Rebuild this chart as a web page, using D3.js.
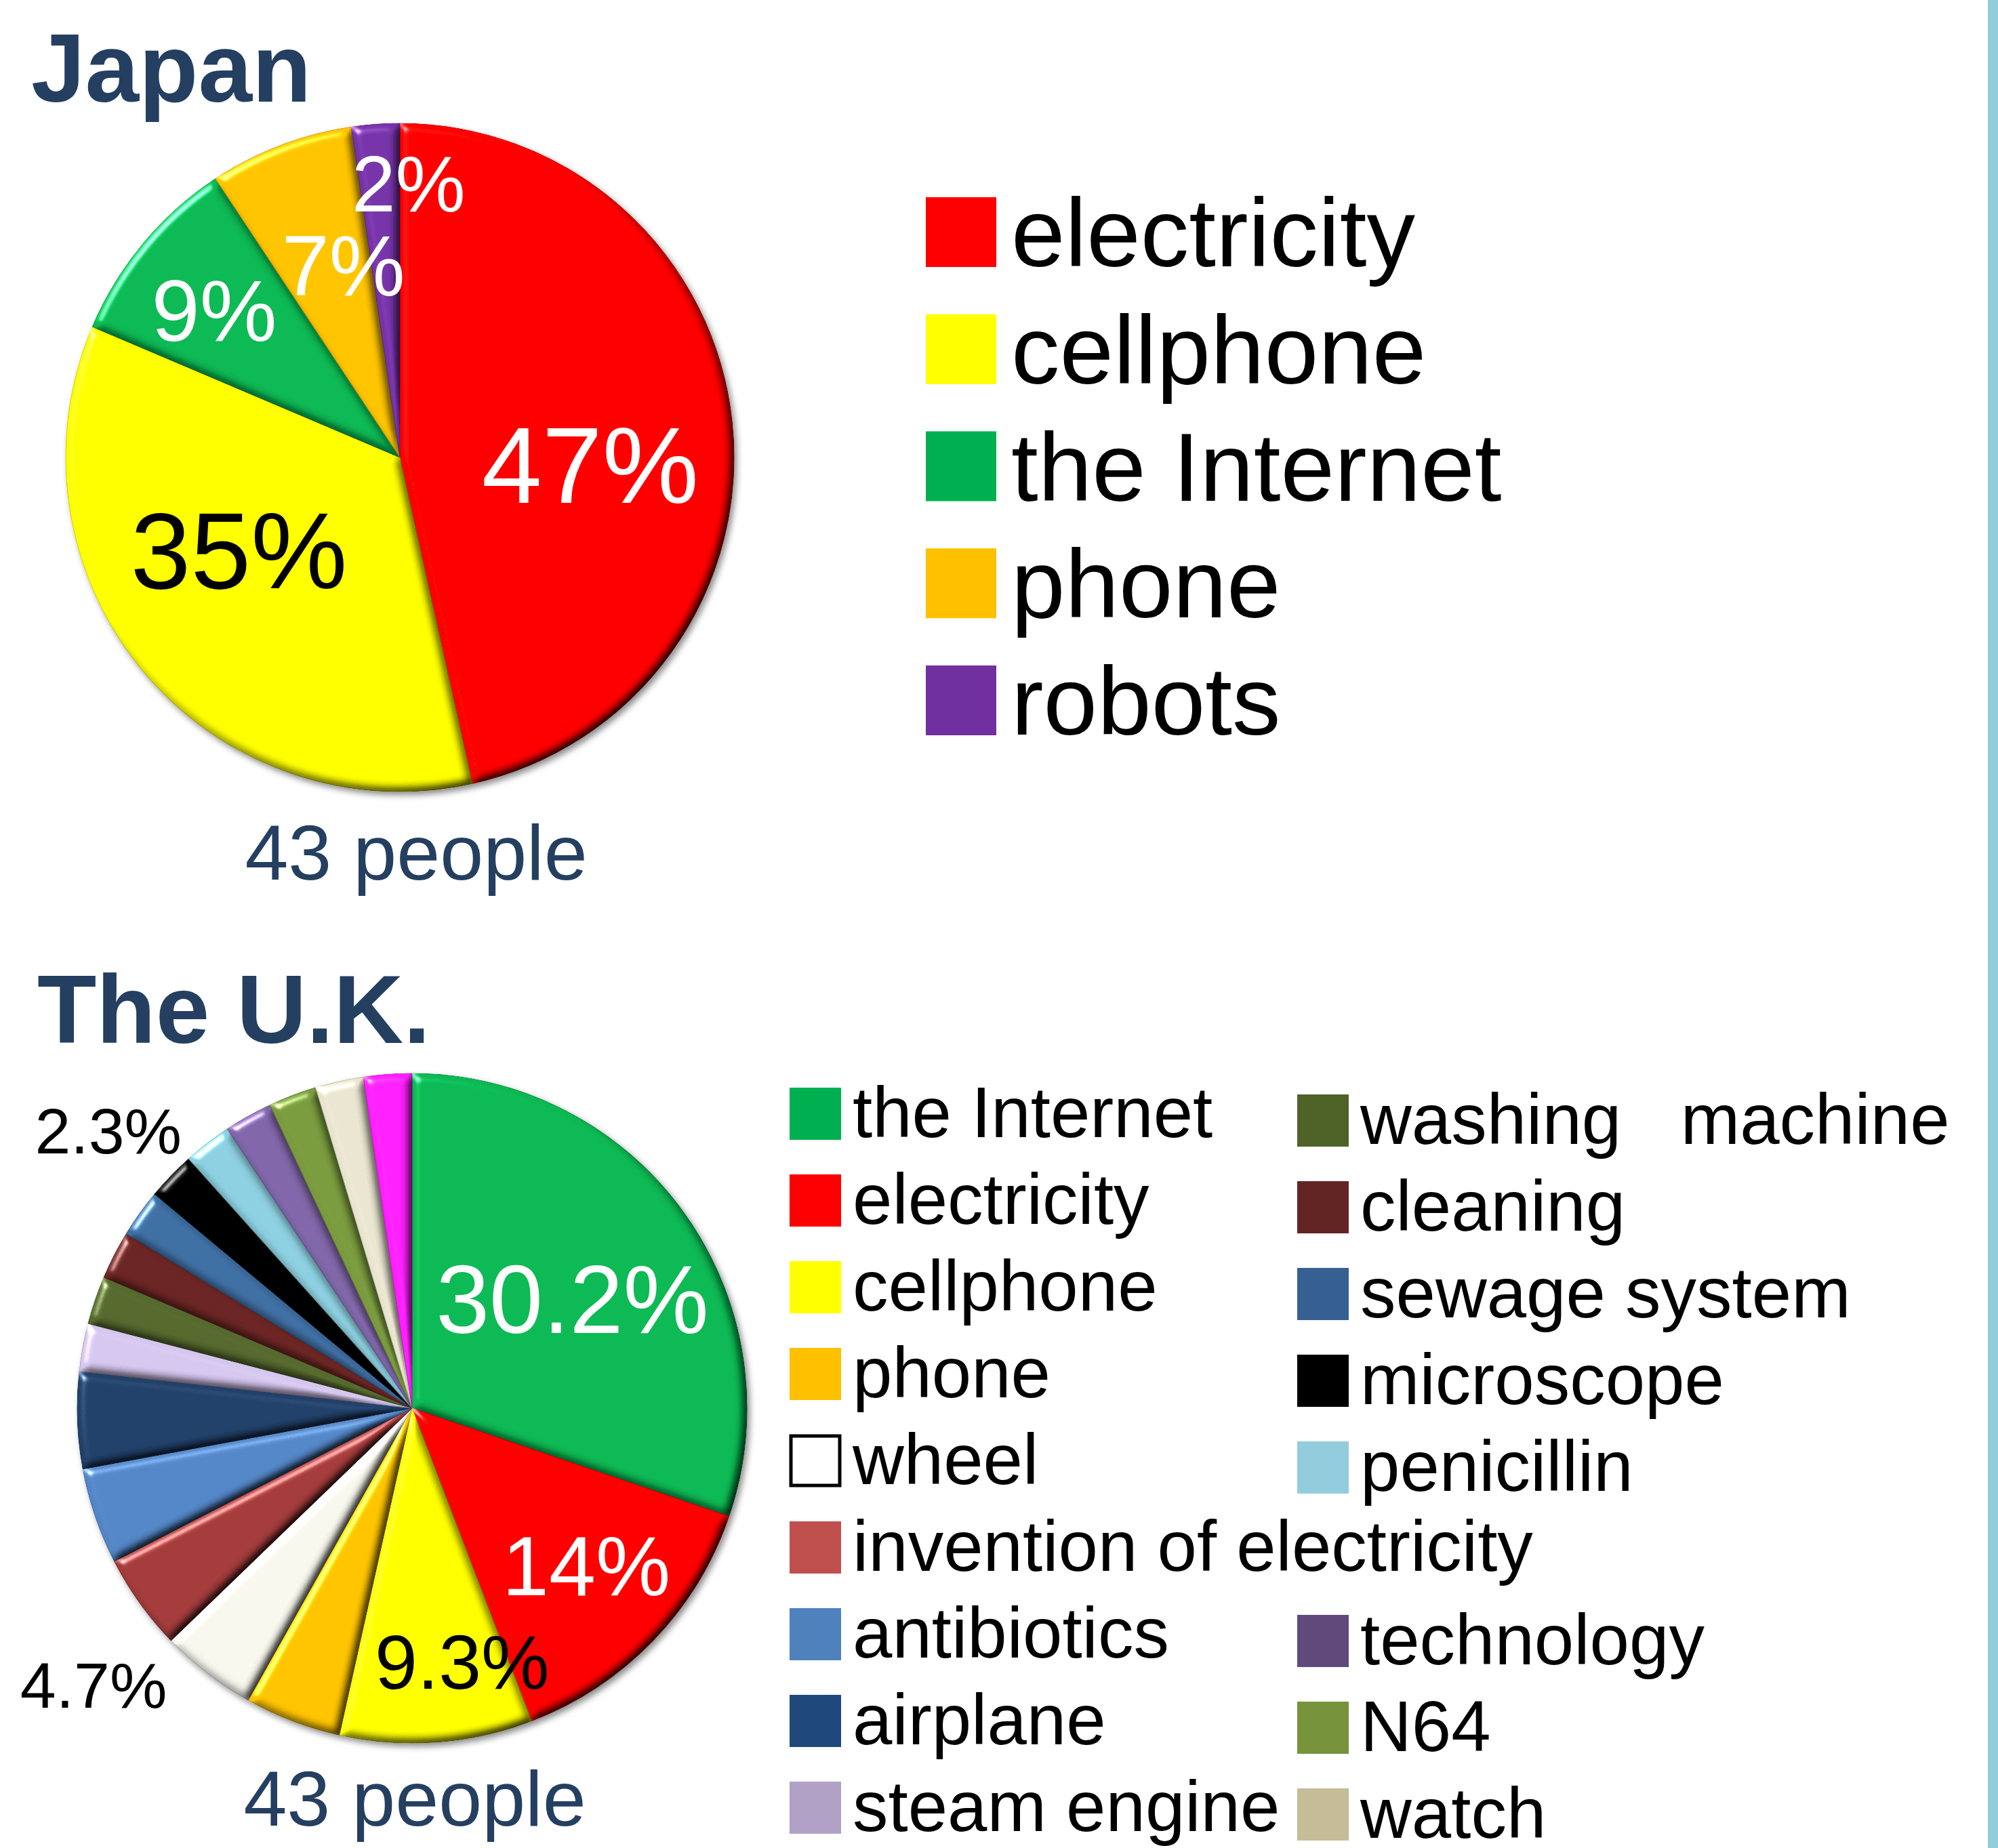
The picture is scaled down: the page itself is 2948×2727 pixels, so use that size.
<!DOCTYPE html>
<html>
<head>
<meta charset="utf-8">
<script src="https://cdn.jsdelivr.net/npm/d3@7"></script>
<style>
  html, body { margin: 0; padding: 0; background: #ffffff; }
  svg { display: block; }
  text { font-family: "Liberation Sans", Arial, sans-serif; }
</style>
</head>
<body>
<svg id="chart" width="2948" height="2727"></svg>
<script>
// ---------------- DATA ----------------
const japanCategories = ["electricity", "cellphone", "the Internet", "phone", "robots"];
const japanCounts = [20, 15, 4, 3, 1];
const japanPieColors = ["#FF0000", "#FFFF00", "#08B852", "#FFC400", "#7632A8"];
const japanLegendColors = ["#FF0000", "#FFFF00", "#00B050", "#FFC000", "#7030A0"];
const japanLabels = ["47%", "35%", "9%", "7%", "2%"];
const japanLabelSlice = [0, 1, 2, 3, 4];
const japanTotal = "43 people";

const ukCategories = ["the Internet", "electricity", "cellphone", "phone", "wheel",
  "invention of electricity", "antibiotics", "airplane", "steam engine",
  "washing   machine", "cleaning", "sewage system", "microscope", "penicillin",
  "technology", "N64", "watch", "other"];
const ukCounts = [13, 6, 4, 2, 2, 2, 2, 2, 1, 1, 1, 1, 1, 1, 1, 1, 1, 1];
const ukPieColors = ["#08B852", "#FF0000", "#FFFF00", "#FFC400", "#F7F6EC",
  "#A33B3A", "#5386C6", "#21406A", "#D5C6EE", "#56692D", "#6B2523", "#3F6FA3",
  "#000000", "#8CCFE0", "#8066A8", "#7A9A3E", "#E8E4CF", "#FF1FFF"];
const ukLegendColors = ["#00B050", "#FF0000", "#FFFF00", "#FFC000", "#FFFFFF",
  "#C0504D", "#4F81BD", "#1F497D", "#B2A1C7", "#4F6228", "#632523", "#376092",
  "#000000", "#93CDDD", "#604A7B", "#77933C", "#C4BD97"];
const ukLabels = ["30.2%", "14%", "9.3%", "2.3%", "4.7%"];
const ukLabelSlice = [0, 1, 2, 12, 5];
const ukTotal = "43 people";

// ---------------- LAYOUT / STYLE ----------------
const W = 2948, H = 2727;
const navy = "#243F60";
const japanLabelStyle = [
  {k: 0.57, da: 8.3, size: 160, fill: "#fff"},
  {k: 0.555, da: 10, size: 160, fill: "#000"},
  {k: 0.71, da: -1.3, size: 128, fill: "#fff"},
  {k: 0.60, da: 4.6, size: 126, fill: "#fff"},
  {k: 0.82, da: 6, size: 116, fill: "#fff"}
];
const ukLabelStyle = [
  {k: 0.58, da: 1.2, size: 142, fill: "#fff"},
  {k: 0.70, da: -2, size: 124, fill: "#fff"},
  {k: 0.77, da: -7, size: 113, fill: "#000"},
  {k: 1.23, da: -1.5, size: 95, fill: "#000"},
  {k: 1.26, da: -5.4, size: 95, fill: "#000"}
];

const svg = d3.select("#chart");
const defs = svg.append("defs");

// bevel filter
const bev = defs.append("filter").attr("id", "bevel")
  .attr("x", "-10%").attr("y", "-10%").attr("width", "120%").attr("height", "120%")
  .attr("color-interpolation-filters", "sRGB");
bev.append("feGaussianBlur").attr("in", "SourceAlpha").attr("stdDeviation", 7).attr("result", "b");
const dl = bev.append("feDiffuseLighting").attr("in", "b").attr("surfaceScale", 6)
  .attr("diffuseConstant", 1.414).attr("lighting-color", "#ffffff").attr("result", "d");
dl.append("feDistantLight").attr("azimuth", 225).attr("elevation", 45);
bev.append("feComposite").attr("in", "SourceGraphic").attr("in2", "d").attr("operator", "arithmetic")
  .attr("k1", 1).attr("k2", 0).attr("k3", 0).attr("k4", 0).attr("result", "shaded");
const sl = bev.append("feSpecularLighting").attr("in", "b").attr("surfaceScale", 6)
  .attr("specularConstant", 0.7).attr("specularExponent", 60).attr("lighting-color", "#ffffff").attr("result", "s");
sl.append("feDistantLight").attr("azimuth", 225).attr("elevation", 45);
bev.append("feComposite").attr("in", "s").attr("in2", "SourceAlpha").attr("operator", "in").attr("result", "s2");
bev.append("feComposite").attr("in", "shaded").attr("in2", "s2").attr("operator", "arithmetic")
  .attr("k1", 0).attr("k2", 1).attr("k3", 1).attr("k4", 0).attr("result", "lit");
bev.append("feComposite").attr("in", "lit").attr("in2", "SourceAlpha").attr("operator", "in");

// drop shadow
const sh = defs.append("filter").attr("id", "shadow")
  .attr("x", "-10%").attr("y", "-10%").attr("width", "120%").attr("height", "120%");
sh.append("feDropShadow").attr("dx", 4).attr("dy", 5).attr("stdDeviation", 5)
  .attr("flood-color", "#000").attr("flood-opacity", 0.45);

// right strip
svg.append("rect").attr("x", 2933).attr("y", 0).attr("width", 15).attr("height", H).attr("fill", "#92CDDC");

function drawPie(cx, cy, r, counts, colors, labels, labelSlice, labelStyle) {
  const pie = d3.pie().sort(null).value(d => d);
  const arcs = pie(counts);
  const arc = d3.arc().innerRadius(0).outerRadius(r);
  const g = svg.append("g").attr("transform", `translate(${cx},${cy})`);
  const sg = g.append("g").attr("filter", "url(#shadow)");
  sg.selectAll("path").data(arcs).join("path")
    .attr("d", arc)
    .attr("fill", (d, i) => colors[i])
    .attr("stroke", (d, i) => d3.color(colors[i]).darker(0.6))
    .attr("stroke-width", 1.2)
    .attr("filter", "url(#bevel)");
  labels.forEach((t, j) => {
    const a = arcs[labelSlice[j]];
    const st = labelStyle[j];
    const mid = (a.startAngle + a.endAngle) / 2 + st.da * Math.PI / 180;
    const rr = st.k * r;
    g.append("text")
      .attr("x", rr * Math.sin(mid))
      .attr("y", -rr * Math.cos(mid))
      .attr("dy", "0.358em")
      .attr("text-anchor", "middle")
      .attr("font-size", st.size)
      .attr("fill", st.fill)
      .text(t);
  });
}

// ---------- Japan ----------
svg.append("text").attr("x", 46).attr("y", 150).attr("font-size", 143).attr("font-weight", "bold")
  .attr("fill", navy).text("Japan");
drawPie(590, 675, 493, japanCounts, japanPieColors, japanLabels, japanLabelSlice, japanLabelStyle);
svg.append("text").attr("x", 614).attr("y", 1298).attr("text-anchor", "middle").attr("font-size", 115)
  .attr("fill", navy).text(japanTotal);

const jLeg = svg.append("g");
const jy = d3.scalePoint().domain(japanCategories).range([291, 982]);
jLeg.selectAll("rect").data(japanCategories).join("rect")
  .attr("x", 1366).attr("y", d => jy(d)).attr("width", 104).attr("height", 103)
  .attr("fill", (d, i) => japanLegendColors[i]);
jLeg.selectAll("text").data(japanCategories).join("text")
  .attr("x", 1492).attr("y", d => jy(d) + 102).attr("font-size", 143).attr("fill", "#000")
  .text(d => d);

// ---------- UK ----------
svg.append("text").attr("x", 55).attr("y", 1539).attr("font-size", 143).attr("font-weight", "bold")
  .attr("fill", navy).text("The U.K.");
drawPie(608, 2078, 494, ukCounts, ukPieColors, ukLabels, ukLabelSlice, ukLabelStyle);
svg.append("text").attr("x", 612).attr("y", 2694).attr("text-anchor", "middle").attr("font-size", 115)
  .attr("fill", navy).text(ukTotal);

// legend slots (column, row)
const ukLegendSlots = [[0,0],[0,1],[0,2],[0,3],[0,4],[0,5],[0,6],[0,7],[0,8],
  [1,0],[1,1],[1,2],[1,3],[1,4],[1,6],[1,7],[1,8]];
const colX = [1165, 1914], colY0 = [1605, 1615];
const rowScale = d3.scaleLinear().domain([0, 8]).range([0, 1024]);
const uLeg = svg.append("g");
const legItems = ukLegendColors.map((c, i) => ({name: ukCategories[i], color: c, slot: ukLegendSlots[i]}));
uLeg.selectAll("rect").data(legItems).join("rect")
  .attr("x", d => colX[d.slot[0]] + (d.color === "#FFFFFF" ? 2 : 0))
  .attr("y", d => colY0[d.slot[0]] + rowScale(d.slot[1]) + (d.color === "#FFFFFF" ? 2 : 0))
  .attr("width", d => d.color === "#FFFFFF" ? 72 : 76)
  .attr("height", d => d.color === "#FFFFFF" ? 73 : 77)
  .attr("fill", d => d.color)
  .attr("stroke", d => d.color === "#FFFFFF" ? "#000" : "none")
  .attr("stroke-width", 5);
uLeg.selectAll("text").data(legItems).join("text")
  .attr("x", d => colX[d.slot[0]] + 93)
  .attr("y", d => colY0[d.slot[0]] + rowScale(d.slot[1]) + 73)
  .attr("font-size", 105).attr("fill", "#000")
  .style("white-space", "pre")
  .text(d => d.name);
</script>
</body>
</html>
